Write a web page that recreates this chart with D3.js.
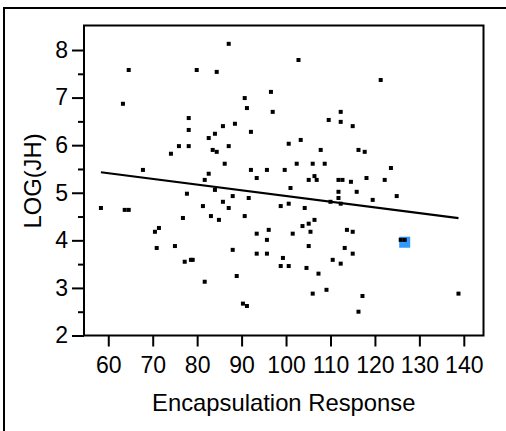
<!DOCTYPE html>
<html>
<head>
<meta charset="utf-8">
<script src="https://cdnjs.cloudflare.com/ajax/libs/d3/7.8.5/d3.min.js"></script>
<style>
    body { margin: 0; background: #fff; }
    text { font-family: "Liberation Sans", Arial, sans-serif; fill: #000; }
</style>
</head>
<body>
<svg id="scatter" width="506" height="431"></svg>
<script>

//Encapsulation response (x) and LOG(JH) (y)
var encapsulation = [58.35, 63.3, 64.6, 63.7, 64.6, 67.8, 70.5, 71.4, 70.9, 74.1, 75.0, 75.9, 76.8, 77.2, 77.7,
    78.1, 78.1, 78.1, 78.6, 79.0, 79.9, 81.3, 81.7, 81.7, 82.6, 82.6, 83.1, 83.5, 84.0, 84.0, 84.4, 84.4, 84.9,
    85.8, 85.8, 86.2, 87.1, 87.1, 87.1, 88.0, 88.0, 88.5, 88.9, 90.3, 91.2, 90.7, 90.7, 91.2, 91.6, 92.1, 92.1,
    93.4, 93.4, 93.4, 95.7, 95.7, 95.7, 96.1, 96.6, 97.0, 98.8, 98.8, 99.3, 99.7, 100.6, 100.6, 100.6, 101.0,
    101.5, 102.4, 102.8, 103.3, 103.7, 104.2, 104.6, 105.1, 105.1, 105.1, 105.5, 106.0, 106.0, 106.4, 106.4,
    106.9, 107.3, 107.8, 108.7, 109.1, 109.6, 110.0, 110.5, 111.8, 112.7, 111.8, 111.8, 112.3, 112.3, 112.3,
    112.3, 113.2, 113.7, 114.6, 115.0, 115.0, 115.0, 115.9, 116.3, 116.3, 117.2, 117.7, 118.1, 119.5, 121.3,
    122.2, 123.6, 124.9, 125.8, 126.7, 138.8];
var logJH = [4.68, 6.87, 7.58, 4.64, 4.64, 5.48, 4.18, 4.26, 3.84, 5.82, 3.88, 5.98, 4.47, 3.55, 4.98,
    6.57, 6.32, 5.98, 3.59, 3.59, 7.58, 4.72, 5.27, 3.13, 6.15, 5.40, 4.51, 5.90, 6.24, 5.06, 7.54, 5.86, 4.43,
    6.40, 4.81, 5.61, 8.13, 5.98, 4.68, 4.93, 3.80, 6.45, 3.25, 2.67, 2.62, 6.99, 4.51, 6.78, 4.89, 6.28, 5.48,
    5.31, 4.14, 3.72, 5.48, 4.01, 3.72, 4.22, 7.12, 6.70, 4.72, 3.46, 3.63, 5.48, 6.03, 4.77, 3.46, 5.10,
    4.14, 5.61, 7.79, 6.11, 4.30, 4.68, 3.42, 5.27, 4.35, 3.88, 4.18, 5.61, 2.88, 5.35, 4.43,
    5.27, 3.30, 5.90, 5.61, 2.96, 6.53, 4.81, 3.59, 5.27, 5.27, 5.02, 4.89, 6.70, 6.49, 4.77,
    3.51, 3.84, 4.22, 5.23, 6.40, 4.18, 3.72, 5.02, 5.90, 2.50, 2.83, 5.86, 5.31, 4.85, 7.37,
    5.27, 5.52, 4.93, 4.01, 4.01, 2.88];

//highlighted (selected) point
var selectedX = [126.7];
var selectedY = [3.96];

//linear fit
var fitIntercept = 6.13;
var fitSlope = -0.01199;

var xTicks = [60, 70, 80, 90, 100, 110, 120, 130, 140];
var yTicks = [2, 3, 4, 5, 6, 7, 8];
var yMinorTicks = [2.5, 3.5, 4.5, 5.5, 6.5, 7.5];

var svg = d3.select("#scatter");

//outer frame
svg.append("rect")
    .attr("x", 4)
    .attr("y", 8)
    .attr("width", 540)
    .attr("height", 460)
    .attr("fill", "none")
    .attr("stroke", "#000")
    .attr("stroke-width", 2);

var plotLeft = 84, plotTop = 25.5, plotRight = 483.5, plotBottom = 335.5;

var x = d3.scaleLinear()
    .domain([54.54, 144.43])
    .range([plotLeft, plotRight]);

var y = d3.scaleLinear()
    .domain([2, 8.515])
    .range([plotBottom, plotTop]);

//plot frame
svg.append("rect")
    .attr("x", plotLeft)
    .attr("y", plotTop)
    .attr("width", plotRight - plotLeft)
    .attr("height", plotBottom - plotTop)
    .attr("fill", "none")
    .attr("stroke", "#000")
    .attr("stroke-width", 2);

//x axis
var gx = svg.append("g")
    .attr("transform", "translate(0," + plotBottom + ")")
    .call(d3.axisBottom(x).tickValues(xTicks).tickFormat(d3.format("d")).tickSize(11).tickPadding(10).tickSizeOuter(0));

//y axis, major and minor ticks
var gy = svg.append("g")
    .attr("transform", "translate(" + plotLeft + ",0)")
    .call(d3.axisLeft(y).tickValues(yTicks).tickFormat(d3.format("d")).tickSize(12).tickPadding(4).tickSizeOuter(0));

svg.append("g")
    .attr("transform", "translate(" + plotLeft + ",0)")
    .call(d3.axisLeft(y).tickValues(yMinorTicks).tickSize(6).tickFormat("").tickSizeOuter(0));

svg.selectAll(".domain").remove();
svg.selectAll(".tick line").attr("stroke", "#000").attr("stroke-width", 2);
gx.selectAll("text").attr("font-size", 23).attr("fill", "#000");
gy.selectAll("text").attr("font-size", 23).attr("fill", "#000");

//axis titles
svg.append("text")
    .attr("x", (plotLeft + plotRight) / 2)
    .attr("y", 410.5)
    .attr("text-anchor", "middle")
    .attr("font-size", 23.8)
    .text("Encapsulation Response");

svg.append("text")
    .attr("transform", "translate(41," + 181 + ") rotate(-90)")
    .attr("text-anchor", "middle")
    .attr("font-size", 23.8)
    .text("LOG(JH)");

//selected point drawn under the others
svg.selectAll("rect.sel")
    .data(selectedX)
    .enter()
    .append("rect")
    .attr("class", "sel")
    .attr("x", function (d) { return x(d) - 5.5; })
    .attr("y", function (d, i) { return y(selectedY[i]) - 5.5; })
    .attr("width", 11)
    .attr("height", 11)
    .attr("fill", "#3399ff");

//points
svg.selectAll("rect.pt")
    .data(encapsulation)
    .enter()
    .append("rect")
    .attr("class", "pt")
    .attr("x", function (d) { return x(d) - 2; })
    .attr("y", function (d, i) { return y(logJH[i]) - 2; })
    .attr("width", 4)
    .attr("height", 4)
    .attr("fill", "#000");

//fit line over the range of the data
var ext = d3.extent(encapsulation);
svg.append("line")
    .attr("x1", x(ext[0]))
    .attr("y1", y(fitIntercept + fitSlope * ext[0]))
    .attr("x2", x(ext[1]))
    .attr("y2", y(fitIntercept + fitSlope * ext[1]))
    .attr("stroke", "#000")
    .attr("stroke-width", 2.2);

</script>
</body>
</html>
